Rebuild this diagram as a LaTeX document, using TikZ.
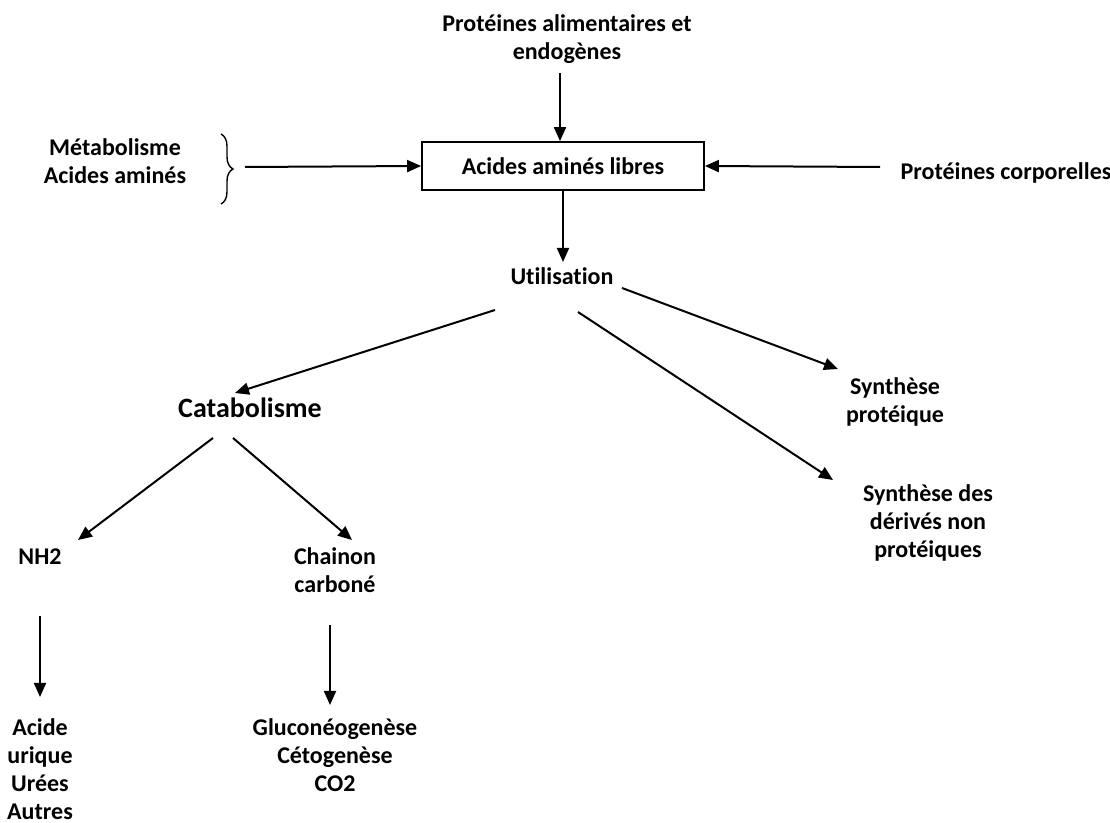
\documentclass[tikz,border=0pt]{standalone}
\usepackage{fontspec}
\setmainfont{Carlito}[Ligatures=NoCommon]
\usepackage{tikz}
\usetikzlibrary{arrows.meta, calc, decorations.pathreplacing}
\tikzset{
  lbl/.style={align=center, font=\fontsize{12}{14}\selectfont\bfseries, inner sep=1pt},
  box/.style={draw, line width=0.9pt, minimum width=141pt, minimum height=24pt,
              font=\fontsize{12}{14}\selectfont\bfseries},
  arr/.style={-{Triangle[length=7pt,width=6pt]}, line width=1pt}
}

\begin{document}
\begin{tikzpicture}[x=0.5pt, y=-0.5pt]
  \useasboundingbox (0,0) rectangle (1110,823);
  \node[lbl] (prot)  at (567,39)  {Protéines alimentaires et\\endogènes};
  \node[box] (box)   at (563,166) {Acides aminés libres};
  \node[lbl] (metab) at (115,161) {Métabolisme\\Acides aminés};
  \node[lbl] (corp)  at (1006,173) {Protéines corporelles};
  \node[lbl] (util)  at (562,276) {Utilisation};
  \node[lbl,font=\fontsize{14}{16}\selectfont\bfseries] (catab) at (250,408) {Catabolisme};
  \node[lbl] (syn1)  at (895,402) {Synthèse\\protéique};
  \node[lbl] (syn2)  at (928,523) {Synthèse des\\dérivés non\\protéiques};
  \node[lbl] (nh2)   at (40,557)  {NH2};
  \node[lbl] (chain) at (335,570) {Chainon\\carboné};
  \node[lbl] (acide) at (40,769)  {Acide\\urique\\Urées\\Autres};
  \node[lbl] (gluco) at (335,755) {Gluconéogenèse\\Cétogenèse\\CO2};

  % accolade
  \draw[line width=0.7pt, decorate, decoration={brace, amplitude=6pt}]
    ($(metab)+(106,-27)$) -- ($(metab)+(106,43)$);

  \draw[arr] ($(prot)+(-7,34)$) -- (box.north -| {$(prot)+(-7,0)$});
  \draw[arr] (box.south) -- ($(util)+(1,-14)$);
  \draw[arr] ($(metab)+(130,6)$) -- (box.west);
  \draw[arr] ($(corp)+(-126,-6)$) -- (box.east);
  \draw[arr] ($(util)+(-67,34)$) -- ($(catab)+(-15,-15)$);
  \draw[arr] ($(util)+(60,12)$) -- ($(syn1)+(-57,-33)$);
  \draw[arr] ($(util)+(16,36)$) -- ($(syn2)+(-95,-43)$);
  \draw[arr] ($(catab)+(-37,30)$) -- ($(nh2)+(38,-17)$);
  \draw[arr] ($(catab)+(-17,30)$) -- ($(chain)+(17,-30)$);
  \draw[arr] ($(nh2)+(0,59)$) -- ($(acide)+(0,-72)$);
  \draw[arr] ($(chain)+(-5,55)$) -- ($(gluco)+(-5,-50)$);
\end{tikzpicture}
\end{document}
